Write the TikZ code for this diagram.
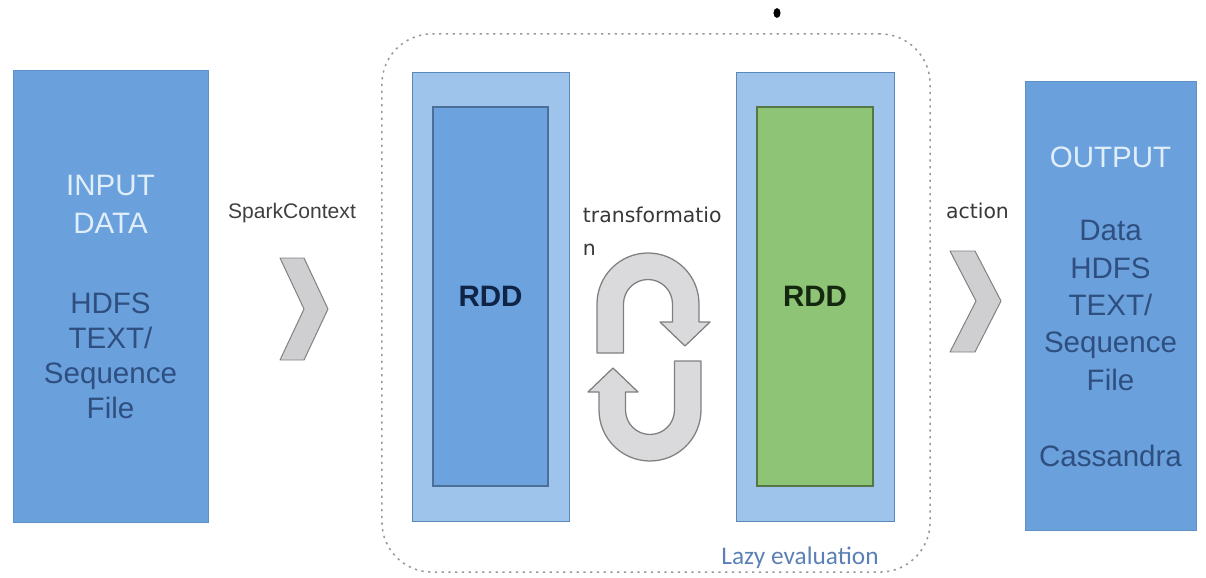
\documentclass[tikz,border=0pt]{standalone}
\usepackage{fontspec}
\setmainfont{Liberation Sans}
\newfontfamily\dejavu{DejaVu Sans}
\newfontfamily\carlito{Carlito}
\usetikzlibrary{positioning, shapes.geometric}
\definecolor{boxblue}{RGB}{106,160,220}
\definecolor{rddlight}{RGB}{158,196,236}
\definecolor{rddblue}{RGB}{108,162,221}
\definecolor{rddgreen}{RGB}{142,196,118}
\definecolor{headtxt}{RGB}{224,238,250}
\definecolor{bodytxt}{RGB}{46,79,128}
\definecolor{arrowgray}{RGB}{218,218,220}
\definecolor{lazyblue}{RGB}{91,128,181}

\begin{document}
\begin{tikzpicture}[x=0.025cm, y=-0.025cm,
    databox/.style={fill=boxblue, draw=boxblue!90!black, inner sep=0},
    rddframe/.style={fill=rddlight, draw=boxblue!85!black, inner sep=0,
      minimum width=3.95cm, minimum height=11.225cm},
    rddbox/.style={draw, line width=0.8pt, inner sep=0, minimum width=2.9cm,
      minimum height=9.475cm, font=\fontsize{21}{24}\selectfont\bfseries},
    headtext/.style={align=center, text=headtxt, font=\fontsize{21}{27}\selectfont},
    bodytext/.style={align=center, text=bodytxt, font=\fontsize{21}{25}\selectfont},
    steplabel/.style={text=black!78, font=\dejavu\fontsize{14.5}{23.5}\selectfont},
    chevron/.style={fill=arrowgray!95!black, draw=black!50, line width=0.7pt, line join=round},
    cycle arrow/.style={fill=arrowgray, draw=black!50, line width=0.9pt, line join=round}]
  \useasboundingbox (0,0) rectangle (1206,578);

  \node[fill=black, ellipse, inner sep=0, minimum width=5pt, minimum height=7pt] (dot) at (777,13) {};

  \node[databox, minimum width=4.875cm, minimum height=11.3cm] (input) at (110.5,296) {};
  \node[headtext] (inhead) at (input.center |- 0,204) {INPUT\\DATA};
  \node[bodytext] (inbody) at (input.center |- 0,356) {HDFS\\TEXT/\\Sequence\\File};

  \node[text=black!75, font=\fontsize{15}{18}\selectfont] (spark) at (292,213) {SparkContext};
  \draw[chevron] (280,258) -- (304,258) -- (328,309) -- (304,360) -- (280,360) -- (304,309) -- cycle;

  \node[draw=black!40, dash pattern=on 1.6pt off 3.2pt, line width=1.1pt, rounded corners=1.25cm,
    minimum width=13.7cm, minimum height=13.45cm] (lazy) at (656,303) {};
  \node[text=lazyblue, font=\carlito\fontsize{18}{20}\selectfont] (lazytext) at (800,558) {Lazy evaluation};

  \node[rddframe, minimum width=3.925cm] (rddAframe) at (490.5,296.5) {};
  \node[rddbox, fill=rddblue, draw=boxblue!70!black, minimum width=2.875cm, text={rgb,255:red,16;green,36;blue,72}]
    (rddA) at (rddAframe.center) {RDD};
  \node[rddframe] (rddBframe) at (815,296.5) {};
  \node[rddbox, fill=rddgreen, draw=rddgreen!60!black, text={rgb,255:red,20;green,40;blue,16}]
    (rddB) at (rddBframe.center) {RDD};

  \node[steplabel, align=left, anchor=west] (trans) at (578,231) {transformatio\\n};
  \draw[cycle arrow] (597,353) -- (597,304) arc[start angle=180, end angle=360, radius=51]
    -- (699,322) -- (710,322) -- (685,346) -- (660,322) -- (672.5,322) -- (672.5,304)
    arc[start angle=0, end angle=-180, radius=24.5] -- (623.5,353) -- cycle;
  \draw[cycle arrow] (701,361) -- (701,410) arc[start angle=0, end angle=180, radius=51]
    -- (599,392) -- (588,392) -- (613,368) -- (638,392) -- (625.5,392) -- (625.5,410)
    arc[start angle=180, end angle=0, radius=24.5] -- (674.5,361) -- cycle;

  \node[steplabel] (action) at (977.5,211) {action};
  \draw[chevron] (950,251) -- (975,251) -- (1001,301) -- (975,352) -- (950,352) -- (976,301) -- cycle;

  \node[databox, minimum width=4.275cm, minimum height=11.225cm] (output) at (1110.5,305.5) {};
  \node[headtext] (outhead) at (output.center |- 0,157) {OUTPUT};
  \node[bodytext, font=\fontsize{21}{26.5}\selectfont] (outbody) at (output.center |- 0,305.5)
    {Data\\HDFS\\TEXT/\\Sequence\\File};
  \node[bodytext] (cassandra) at (output.center |- 0,456) {Cassandra};
\end{tikzpicture}
\end{document}
